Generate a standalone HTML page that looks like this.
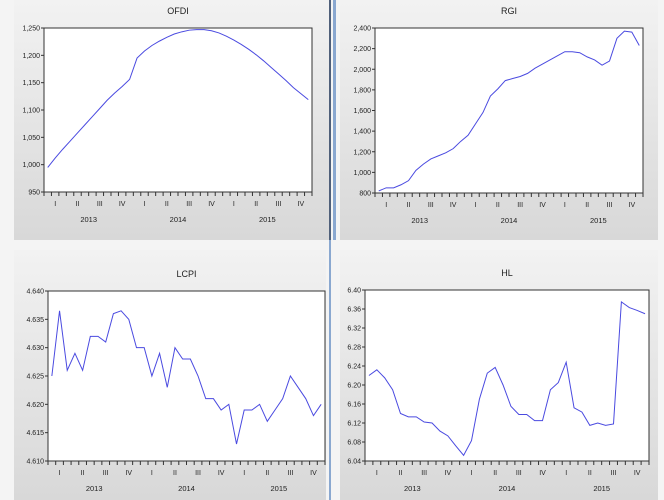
<!DOCTYPE html>
<html><head><meta charset="utf-8"><style>
body{margin:0;width:664px;height:500px;background:#f4f4f4;overflow:hidden;font-family:"Liberation Sans",sans-serif}
svg{display:block}
</style></head><body>
<svg id="s" width="664" height="500">
<defs><linearGradient id="g" x1="0" y1="0" x2="0" y2="1"><stop offset="0" stop-color="#f2f2f2"/><stop offset="1" stop-color="#d8d8d8"/></linearGradient></defs>
</svg>
<script>
const ofdiValues=[995,1012,1028,1043,1058,1073,1088,1103,1118,1131,1143,1156,1195,1208,1218,1226,1233,1239,1243,1246,1247,1247,1245,1241,1235,1228,1220,1211,1201,1190,1178,1166,1154,1141,1130,1119];
const rgiValues=[820,850,850,880,920,1020,1080,1130,1160,1190,1230,1300,1360,1470,1580,1740,1810,1890,1910,1930,1960,2010,2050,2090,2130,2170,2170,2160,2120,2090,2040,2080,2300,2370,2360,2230];
const lcpiValues=[4.625,4.6365,4.626,4.629,4.626,4.632,4.632,4.631,4.636,4.6365,4.635,4.630,4.630,4.625,4.629,4.623,4.630,4.628,4.628,4.625,4.621,4.621,4.619,4.620,4.613,4.619,4.619,4.620,4.617,4.619,4.621,4.625,4.623,4.621,4.618,4.620];
const hlValues=[6.22,6.232,6.215,6.19,6.14,6.133,6.133,6.122,6.12,6.103,6.093,6.072,6.052,6.083,6.17,6.225,6.237,6.2,6.155,6.138,6.138,6.125,6.125,6.19,6.205,6.248,6.152,6.143,6.115,6.12,6.115,6.118,6.375,6.363,6.357,6.35];
const quarterLabels=["I","II","III","IV"];
const yearLabels=["2013","2014","2015"];
const ofdiTicks=[950,1000,1050,1100,1150,1200,1250];
const rgiTicks=[800,1000,1200,1400,1600,1800,2000,2200,2400];
const lcpiTicks=[4.610,4.615,4.620,4.625,4.630,4.635,4.640];
const hlTicks=[6.04,6.08,6.12,6.16,6.20,6.24,6.28,6.32,6.36,6.40];
const svg=document.getElementById('s');const NS='http://www.w3.org/2000/svg';
function mk(t,a,p){const e=document.createElementNS(NS,t);for(const k in a)e.setAttribute(k,a[k]);(p||svg).appendChild(e);return e;}
function panel(name,px,py,pw,ph,L,T,R,B,vals,ticks,fmt){
 const g=mk('g',{});
 
 
 const bg=mk('rect',{x:px,y:py,width:pw,height:ph,fill:'url(#g)'},g);
 
 
 const t=mk('text',{x:(L+R)/2,y:T-14,'font-size':9,'text-anchor':'middle',fill:'#222'},g);t.textContent=name.toUpperCase();
 
 
 const pa=mk('rect',{x:L,y:T,width:R-L,height:B-T,fill:'#fff',stroke:'#333','stroke-width':1},g);
 
 
 const lo=ticks[0],hi=ticks[ticks.length-1];
 const ys=v=>B-(v-lo)/(hi-lo)*(B-T);
 const n=vals.length,step=(R-L)/n;const xs=i=>L+(i+0.5)*step;
 ticks.forEach(v=>{mk('line',{x1:L-3,x2:L,y1:ys(v),y2:ys(v),stroke:'#333'},g);
  const l=mk('text',{x:L-4,y:ys(v)+2.5,'font-size':7,'text-anchor':'end',fill:'#222'},g);l.textContent=fmt(v);
  
  });
 for(let i=0;i<=n;i++)mk('line',{x1:L+i*step,x2:L+i*step,y1:B,y2:B+4,stroke:'#333'},g);
 for(let q=0;q<12;q++){const l=mk('text',{x:xs(q*3+1),y:B+14,'font-size':7,'text-anchor':'middle',fill:'#222'},g);l.textContent=quarterLabels[q%4];
  
  }
 yearLabels.forEach((y,k)=>{const l=mk('text',{x:L+(k*12+6)*step,y:B+30,'font-size':7.5,'text-anchor':'middle',fill:'#222'},g);l.textContent=y;
  
  });
 const ln=mk('polyline',{points:vals.map((v,i)=>xs(i)+','+ys(v)).join(' '),fill:'none',stroke:'#4a4ae0','stroke-width':1},g);
 
 
}
const c=v=>v.toLocaleString('en-US');
panel('ofdi',14,0,315,240,44,28,312,192,ofdiValues,ofdiTicks,c);
panel('rgi',340,0,318,240,375,28,643,193,rgiValues,rgiTicks,c);
panel('lcpi',14,250,312,250,48,291,325,461,lcpiValues,lcpiTicks,v=>v.toFixed(3));
panel('hl',340,250,318,250,365,290,649,461,hlValues,hlTicks,v=>v.toFixed(2));
const d1=mk('rect',{x:329,y:0,width:2,height:240,fill:'#50607a'});


const d2=mk('rect',{x:333,y:0,width:3,height:240,fill:'#8aa8d0'});


const d3=mk('rect',{x:329,y:240,width:2,height:260,fill:'#8aa8d0'});


</script>
</body></html>
